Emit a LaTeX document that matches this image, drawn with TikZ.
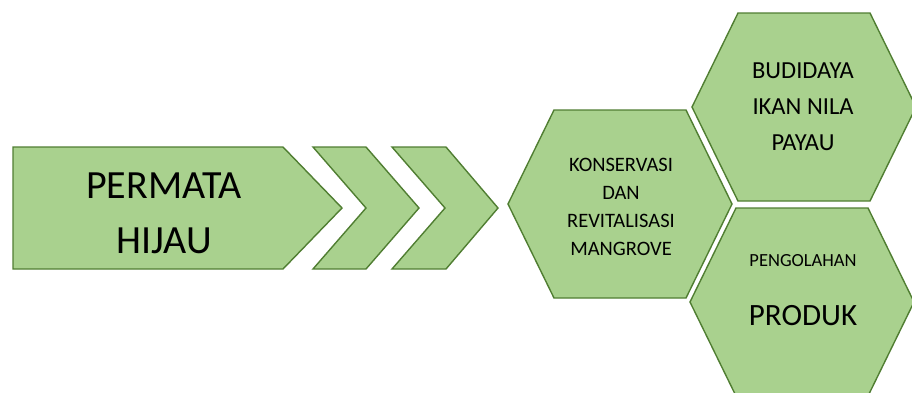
\documentclass[tikz,border=0pt]{standalone}
\usepackage{fontspec}
\setmainfont{Carlito}
\usepackage{xcolor}
\definecolor{leafgreen}{HTML}{A9D18E}
\definecolor{leafdark}{HTML}{507E32}

\tikzset{
  greenshape/.style={draw=leafdark, line width=1.4pt, fill=leafgreen, line join=miter},
  label/.style={align=center, inner sep=0pt, text=black}
}

\begin{document}
\begin{tikzpicture}[x=1pt, y=-1pt]
	\useasboundingbox (0,0) rectangle (912,392);
	\clip (0,0) rectangle (912,392);

	% arrow and chevrons
	\draw[greenshape] (13,147) -- (283,147) -- (342,208) -- (283,269) -- (13,269) -- cycle;
	\draw[greenshape] (313,147) -- (366,147) -- (419,208) -- (366,269) -- (313,269) -- (366,208) -- cycle;
	\draw[greenshape] (392,147) -- (446,147) -- (498,208) -- (446,269) -- (392,269) -- (445,208) -- cycle;

	% hexagons
	\draw[greenshape] (508,204) -- (554,110) -- (686,110) -- (732,204) -- (686,298) -- (554,298) -- cycle;
	\draw[greenshape] (692,107) -- (738,13) -- (870,13) -- (916,107) -- (870,201) -- (738,201) -- cycle;
	\draw[greenshape] (690,302) -- (736,208) -- (868,208) -- (914,302) -- (868,396) -- (736,396) -- cycle;

	% texts
	\node[label, font=\fontsize{40}{55}\selectfont] (permata) at (164,213) {PERMATA\\HIJAU};
	\node[label, font=\fontsize{20.5}{28}\selectfont] (konservasi) at (621,207) {KONSERVASI\\DAN\\REVITALISASI\\MANGROVE};
	\node[label, font=\fontsize{24.5}{36}\selectfont] (budidaya) at (803,107) {BUDIDAYA\\IKAN NILA\\PAYAU};
	\node[label, font=\fontsize{18.5}{22}\selectfont] (pengolahan) at (803,261) {PENGOLAHAN};
	\node[label, font=\fontsize{31}{36}\selectfont] (produk) at (803,316) {PRODUK};
\end{tikzpicture}
\end{document}
